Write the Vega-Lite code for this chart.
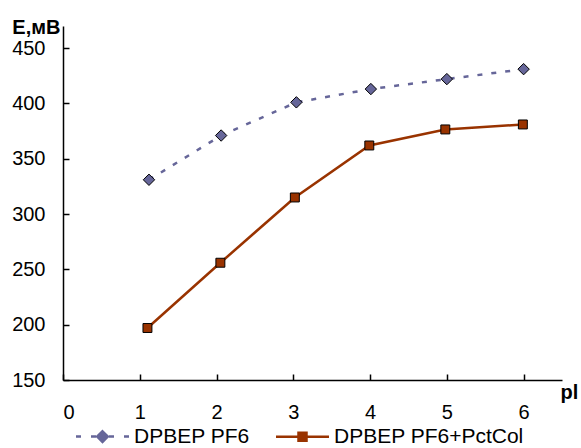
{
  "$schema": "https://vega.github.io/schema/vega-lite/v6.json",
  "width": 499,
  "height": 354,
  "autosize": {"type": "none"},
  "padding": {"left": 63, "top": 26, "right": 19, "bottom": 68},
  "background": "white",
  "config": {
    "view": {"stroke": null},
    "font": "Liberation Sans",
    "axis": {
      "grid": false,
      "domainColor": "black",
      "domainWidth": 1.5,
      "tickColor": "black",
      "tickWidth": 1.5,
      "tickSize": -6,
      "labelFontSize": 20,
      "labelColor": "black",
      "labelFont": "Liberation Sans",
      "titleFont": "Liberation Sans",
      "titleFontSize": 20,
      "titleFontWeight": "bold",
      "titleColor": "black"
    },
    "legend": {
      "labelFontSize": 21,
      "labelFont": "Liberation Sans",
      "labelColor": "black",
      "labelLimit": 400
    }
  },
  "data": {
    "values": [
      {"series": "DPBEP PF6", "pl": 1.12, "E": 331},
      {"series": "DPBEP PF6", "pl": 2.06, "E": 371},
      {"series": "DPBEP PF6", "pl": 3.04, "E": 401},
      {"series": "DPBEP PF6", "pl": 4.01, "E": 413},
      {"series": "DPBEP PF6", "pl": 5.0, "E": 422},
      {"series": "DPBEP PF6", "pl": 6.0, "E": 431},
      {"series": "DPBEP PF6+PctCol", "pl": 1.1, "E": 197},
      {"series": "DPBEP PF6+PctCol", "pl": 2.05, "E": 256},
      {"series": "DPBEP PF6+PctCol", "pl": 3.02, "E": 315},
      {"series": "DPBEP PF6+PctCol", "pl": 3.99, "E": 362},
      {"series": "DPBEP PF6+PctCol", "pl": 4.98, "E": 376.5},
      {"series": "DPBEP PF6+PctCol", "pl": 5.99, "E": 381}
    ]
  },
  "encoding": {
    "x": {
      "field": "pl",
      "type": "quantitative",
      "scale": {"domain": [0, 6.5], "nice": false, "zero": false},
      "axis": {
        "values": [0, 1, 2, 3, 4, 5, 6],
        "format": "d",
        "labelPadding": 28,
        "title": "pl",
        "titleAnchor": "start",
        "titleAlign": "left",
        "titleBaseline": "alphabetic",
        "titleX": 497,
        "titleY": 18,
        "titlePadding": 0
      }
    },
    "y": {
      "field": "E",
      "type": "quantitative",
      "scale": {"domain": [150, 470], "nice": false, "zero": false},
      "axis": {
        "values": [150, 200, 250, 300, 350, 400, 450],
        "labelPadding": 24,
        "title": "E,мВ",
        "titleAngle": 0,
        "titleAlign": "right",
        "titleBaseline": "alphabetic",
        "titleX": -3,
        "titleY": 7
      }
    }
  },
  "layer": [
    {
      "transform": [{"filter": "datum.series === 'DPBEP PF6'"}],
      "mark": {"type": "line", "strokeWidth": 2.5, "stroke": "#666699", "strokeDash": [5, 9]},
      "encoding": {}
    },
    {
      "transform": [{"filter": "datum.series === 'DPBEP PF6+PctCol'"}],
      "mark": {"type": "line", "strokeWidth": 2.5, "stroke": "#993300"},
      "encoding": {}
    },
    {
      "transform": [{"filter": "datum.series === 'DPBEP PF6'"}],
      "mark": {"type": "point", "shape": "diamond", "filled": true, "fill": "#666699", "stroke": "black", "strokeWidth": 1, "size": 130, "opacity": 1}
    },
    {
      "transform": [{"filter": "datum.series === 'DPBEP PF6+PctCol'"}],
      "mark": {"type": "point", "shape": "square", "filled": true, "fill": "#993300", "stroke": "black", "strokeWidth": 1, "size": 80, "opacity": 1}
    },
    {
      "transform": [{"filter": "datum.E < 0"}],
      "mark": {"type": "point", "filled": true, "opacity": 1, "size": 100},
      "encoding": {
        "shape": {
          "field": "series",
          "type": "nominal",
          "scale": {
            "domain": ["DPBEP PF6", "DPBEP PF6+PctCol"],
            "range": [
              "M -5.3 0 L -4.3 0 M -2.3 0 L -1.3 0 M 1.3 0 L 2.3 0 M 4.3 0 L 5.3 0 M 0 -1.06 L 1.06 0 L 0 1.06 L -1.06 0 Z",
              "M -5.3 0 L -0.8 0 M 0.8 0 L 5.3 0 M -0.8 -0.8 L 0.8 -0.8 L 0.8 0.8 L -0.8 0.8 Z"
            ]
          },
          "legend": {
            "title": null,
            "orient": "none",
            "direction": "horizontal",
            "legendX": 29,
            "legendY": 400,
            "symbolSize": 100,
            "symbolOpacity": 1,
            "symbolStrokeWidth": 2.5,
            "labelOffset": 21,
            "columnPadding": 21
          }
        },
        "fill": {
          "field": "series",
          "type": "nominal",
          "scale": {"domain": ["DPBEP PF6", "DPBEP PF6+PctCol"], "range": ["#666699", "#993300"]}
        },
        "stroke": {
          "field": "series",
          "type": "nominal",
          "scale": {"domain": ["DPBEP PF6", "DPBEP PF6+PctCol"], "range": ["#666699", "#993300"]}
        }
      }
    }
  ]
}
